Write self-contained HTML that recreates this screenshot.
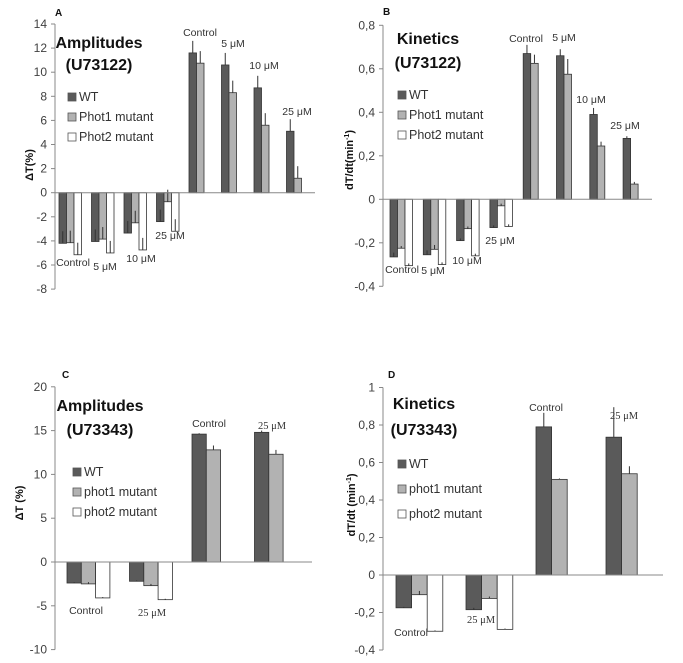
<!DOCTYPE html>
<html><head><meta charset="utf-8">
<style>
body{margin:0;background:#fff;}
svg{display:block;font-family:"Liberation Sans",sans-serif;}
.tick{font-size:12px;fill:#404040;}
.cat{font-size:10.5px;fill:#333;}
.ttl{font-size:16px;font-weight:bold;fill:#111;}
.leg{font-size:12.5px;fill:#333;}
.ytitle{font-size:11px;font-weight:bold;fill:#111;}
.pl{font-size:10px;font-weight:bold;fill:#111;}
</style></head>
<body>
<svg id="chart" width="683" height="663"></svg>
<script>
// Panel A data (U73122 amplitudes)
const aTicks=[14,12,10,8,6,4,2,0,-2,-4,-6,-8];
const aCats=["Control","5 μM","10 μM","25 μM","Control","5 μM","10 μM","25 μM"];
const aWT=[-4.2,-4.05,-3.35,-2.4,11.6,10.6,8.7,5.1];
const aP1=[-4.15,-3.85,-2.5,-0.75,10.75,8.3,5.6,1.2];
const aP2=[-5.15,-5.0,-4.75,-3.2,null,null,null,null];
const aErrWT=[1,1,1,1,1,1,1,1];
const aErrP1=[1,1,1,1,1,1,1,1];
const aErrP2=[1,1,1,1,0,0,0,0];
// Panel B data (U73122 kinetics)
const bTicks=[0.8,0.6,0.4,0.2,0,-0.2,-0.4];
const bTickLabels=["0,8","0,6","0,4","0,2","0","-0,2","-0,4"];
const bCats=["Control","5 μM","10 μM","25 μM","Control","5 μM","10 μM","25 μM"];
const bWT=[-0.265,-0.255,-0.19,-0.13,0.67,0.66,0.39,0.28];
const bP1=[-0.225,-0.23,-0.135,-0.03,0.625,0.575,0.245,0.07];
const bP2=[-0.305,-0.30,-0.26,-0.125,null,null,null,null];
const bErrWT=[0.02,0.02,0.01,0.01,0.04,0.03,0.03,0.01];
const bErrP1=[0.01,0.02,0.01,0.01,0.04,0.07,0.02,0.01];
const bErrP2=[0.01,0.01,0.01,0.01,0,0,0,0];
// Panel C data (U73343 amplitudes)
const cTicks=[20,15,10,5,0,-5,-10];
const cCats=["Control","25 μM","Control","25 μM"];
const cWT=[-2.4,-2.2,14.6,14.8];
const cP1=[-2.5,-2.7,12.8,12.3];
const cP2=[-4.1,-4.3,null,null];
const cErrWT=[0.1,0.1,0.1,0.2];
const cErrP1=[0.2,0.2,0.5,0.5];
const cErrP2=[0.1,0.1,0,0];
// Panel D data (U73343 kinetics)
const dTicks=[1,0.8,0.6,0.4,0.2,0,-0.2,-0.4];
const dTickLabels=["1","0,8","0,6","0,4","0,2","0","-0,2","-0,4"];
const dCats=["Control","25 μM","Control","25 μM"];
const dWT=[-0.175,-0.185,0.79,0.735];
const dP1=[-0.105,-0.125,0.51,0.54];
const dP2=[-0.30,-0.29,null,null];
const dErrWT=[0.005,0.01,0.075,0.16];
const dErrP1=[0.02,0.01,0.005,0.04];
const dErrP2=[0.005,0.005,0,0];

const NS="http://www.w3.org/2000/svg";
const svg=document.getElementById('chart');
function mk(tag,attrs,parent,text){const e=document.createElementNS(NS,tag);for(const k in attrs)e.setAttribute(k,attrs[k]);if(text!==undefined)e.textContent=text;(parent||svg).appendChild(e);return e;}
const COLORS=["#5a5a5a","#b2b2b2","#ffffff"];

function panel(cfg){
  const g=mk('g',{});
  
  
  const y=v=>cfg.y0-(v/cfg.unit)*cfg.unitPx;
  const ymin=cfg.ticks[cfg.ticks.length-1], ymax=cfg.ticks[0];
  const ax=mk('line',{x1:cfg.ax,x2:cfg.ax,y1:y(ymax),y2:y(ymin),stroke:'#888','stroke-width':1},g);
  
  
  cfg.ticks.forEach((t,i)=>{
    mk('line',{x1:cfg.ax-4,x2:cfg.ax,y1:y(t),y2:y(t),stroke:'#888'},g);
    const tl=mk('text',{x:cfg.ax-8,y:y(t)+4,'text-anchor':'end',class:'tick'},g,cfg.tickLabels?cfg.tickLabels[i]:String(t));
    
    
  });
  const series=[cfg.wt,cfg.p1,cfg.p2], errs=[cfg.ewt,cfg.ep1,cfg.ep2];
  const bx=(gi,si)=>cfg.x0+gi*cfg.step+si*cfg.bw;
  series.forEach((s,si)=>{
    s.forEach((v,gi)=>{
      if(v===null)return;
      const x=bx(gi,si), top=Math.min(y(v),y(0)), h=Math.abs(y(v)-y(0));
      const r=mk('rect',{x:x,y:top,width:cfg.bw,height:h,fill:COLORS[si],stroke:'#333','stroke-width':0.8},g);
      
      
      const e=errs[si][gi];
      if(e>0){
        const cx=x+cfg.bw/2;
        const el=mk('line',{x1:cx,x2:cx,y1:y(v),y2:y(v+e),stroke:'#333','stroke-width':1},g);
        
        
      }
    });
  });
  const xa=mk('line',{x1:cfg.ax,x2:cfg.xend,y1:y(0),y2:y(0),stroke:'#888','stroke-width':1},g);
  
  
  cfg.cats.forEach((c,i)=>{
    const p=cfg.catPos[i];
    const t=mk('text',{x:p[0],y:p[1],'text-anchor':'middle',class:'cat','font-family':cfg.serifCat&&c!=="Control"?'"Liberation Serif",serif':'"Liberation Sans",sans-serif'},g,c);
    
    
  });
  const pl=mk('text',{x:cfg.letter[0],y:cfg.letter[1],class:'pl'},g,cfg.letter[2]);
  
  
  cfg.title.forEach((tt,i)=>{
    const t=mk('text',{x:tt[0],y:tt[1],'text-anchor':'middle',class:'ttl'},g,tt[2]);
    
    
  });
  const yt=mk('text',{x:0,y:0,transform:`translate(${cfg.yt[0]},${cfg.yt[1]}) rotate(-90)`,'text-anchor':'middle',class:'ytitle'},g);
  yt.innerHTML=cfg.yt[2];
  
  
  cfg.legend.forEach((lab,i)=>{
    const ly=cfg.leg[1]+i*cfg.leg[2];
    const sq=mk('rect',{x:cfg.leg[0],y:ly-8,width:8,height:8,fill:COLORS[i],stroke:'#555','stroke-width':0.8},g);
    
    
    const t=mk('text',{x:cfg.leg[0]+11,y:ly,class:'leg'},g,lab);
    
    
  });
}

panel({name:'panel-a',ticks:aTicks,cats:aCats,wt:aWT,p1:aP1,p2:aP2,ewt:aErrWT,ep1:aErrP1,ep2:aErrP2,
  ax:55,y0:192.7,unit:1,unitPx:12.05,x0:59,step:32.5,bw:7.5,xend:315,
  catPos:[[73,266],[105,270],[141,262],[170,239],[200,36],[233,47],[264,69],[297,115]],
  letter:[55,16,'A'],title:[[99,48,'Amplitudes'],[99,70,'(U73122)']],
  yt:[33,165,'ΔT(%)'],leg:[68,101,20],legend:['WT','Phot1 mutant','Phot2 mutant']});
panel({name:'panel-b',ticks:bTicks,tickLabels:bTickLabels,cats:bCats,wt:bWT,p1:bP1,p2:bP2,ewt:bErrWT,ep1:bErrP1,ep2:bErrP2,
  ax:383,y0:199.3,unit:0.2,unitPx:43.5,x0:390,step:33.3,bw:7.5,xend:652,
  catPos:[[402,273],[433,274],[467,264],[500,244],[526,42],[564,41],[591,103],[625,129]],
  letter:[383,15,'B'],title:[[428,44,'Kinetics'],[428,68,'(U73122)']],
  yt:[353,160,'dT/dt(min<tspan dy="-4" font-size="7">-1</tspan><tspan dy="4">)</tspan>'],leg:[398,99,20],legend:['WT','Phot1 mutant','Phot2 mutant']});
panel({name:'panel-c',ticks:cTicks,cats:cCats,wt:cWT,p1:cP1,p2:cP2,ewt:cErrWT,ep1:cErrP1,ep2:cErrP2,
  ax:55,y0:562,unit:5,unitPx:43.8,x0:67,step:62.5,bw:14.3,xend:312,serifCat:true,
  catPos:[[86,614],[152,616],[209,427],[272,429]],
  letter:[62,378,'C'],title:[[100,411,'Amplitudes'],[100,435,'(U73343)']],
  yt:[23,503,'ΔT (%)'],leg:[73,476,20],legend:['WT','phot1 mutant','phot2 mutant']});
panel({name:'panel-d',ticks:dTicks,tickLabels:dTickLabels,cats:dCats,wt:dWT,p1:dP1,p2:dP2,ewt:dErrWT,ep1:dErrP1,ep2:dErrP2,
  ax:383,y0:575,unit:0.2,unitPx:37.5,x0:396,step:70,bw:15.6,xend:663,serifCat:true,
  catPos:[[411,636],[481,623],[546,411],[624,419]],
  letter:[388,378,'D'],title:[[424,409,'Kinetics'],[424,435,'(U73343)']],
  yt:[355,505,'dT/dt (min<tspan dy="-4" font-size="7">-1</tspan><tspan dy="4">)</tspan>'],leg:[398,468,25],legend:['WT','phot1 mutant','phot2 mutant']});
</script>
</body></html>
